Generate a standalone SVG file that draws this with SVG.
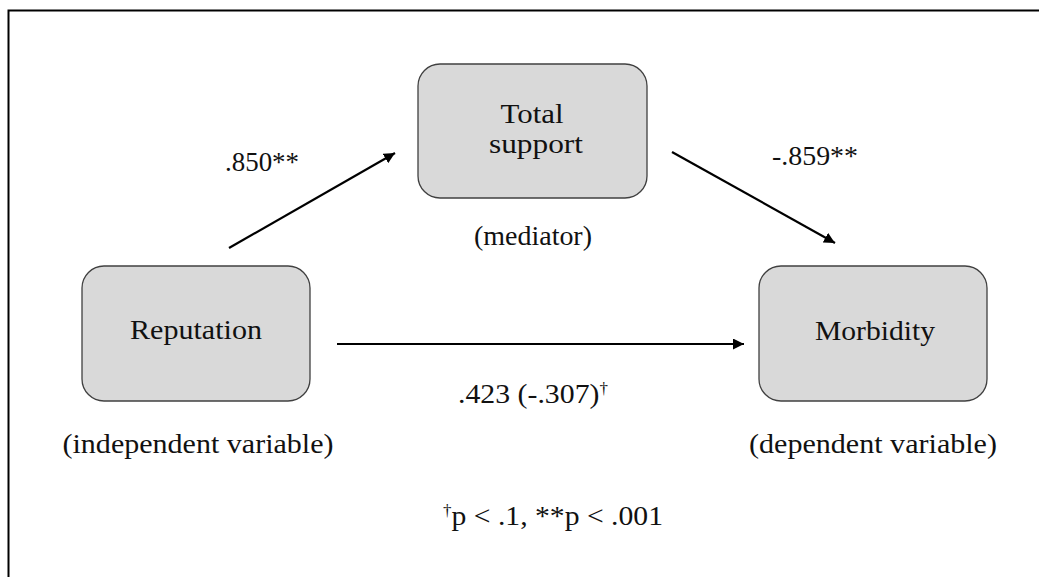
<svg xmlns="http://www.w3.org/2000/svg" width="1039" height="577" viewBox="0 0 1039 577">
<defs>
<style>
.box{fill:#d9d9d9;stroke:#404040;stroke-width:1.3}
.t{font-family:"Liberation Serif","Times New Roman",serif;font-size:28px;fill:#111;text-anchor:middle}
.c{stroke:#000;stroke-width:2.2;fill:none}
.sup{font-size:16px}
</style>
<marker id="ah" viewBox="0 0 10 10" refX="10" refY="5" markerWidth="5" markerHeight="5" markerUnits="strokeWidth" orient="auto">
<path d="M0,0 L10,5 L0,10 z" fill="#000"/>
</marker>
</defs>
<rect x="0" y="0" width="1039" height="577" fill="#fff"/>
<path d="M8.5,590 V10.5 H1050" fill="none" stroke="#000" stroke-width="2"/>
<g id="connectors">
<line class="c" x1="229" y1="248" x2="395" y2="153" marker-end="url(#ah)"/>
<line class="c" x1="672" y1="152" x2="835" y2="243" marker-end="url(#ah)"/>
<line class="c" x1="337" y1="344" x2="744" y2="344" marker-end="url(#ah)"/>
<text class="t" x="262" y="171" textLength="74" lengthAdjust="spacingAndGlyphs">.850**</text>
<text class="t" x="815" y="165" textLength="86" lengthAdjust="spacingAndGlyphs">-.859**</text>
<text class="t" x="533" y="403" textLength="150" lengthAdjust="spacingAndGlyphs">.423 (-.307)<tspan class="sup" dy="-9">†</tspan></text>
</g>
<g id="node-support">
<rect class="box" x="418" y="64" width="229" height="134" rx="22"/>
<text class="t" x="532" y="123" textLength="63" lengthAdjust="spacingAndGlyphs">Total</text>
<text class="t" x="536" y="153" textLength="94" lengthAdjust="spacingAndGlyphs">support</text>
<text class="t" x="533" y="245" textLength="118" lengthAdjust="spacingAndGlyphs">(mediator)</text>
</g>
<g id="node-reputation">
<rect class="box" x="82" y="266" width="228" height="135" rx="22"/>
<text class="t" x="196" y="339" textLength="132" lengthAdjust="spacingAndGlyphs">Reputation</text>
<text class="t" x="198" y="453" textLength="271" lengthAdjust="spacingAndGlyphs">(independent variable)</text>
</g>
<g id="node-morbidity">
<rect class="box" x="759" y="266" width="228" height="135" rx="22"/>
<text class="t" x="875" y="340" textLength="120" lengthAdjust="spacingAndGlyphs">Morbidity</text>
<text class="t" x="873" y="453" textLength="248" lengthAdjust="spacingAndGlyphs">(dependent variable)</text>
</g>
<text class="t" x="553" y="525" textLength="220" lengthAdjust="spacingAndGlyphs"><tspan class="sup" dy="-9">†</tspan><tspan dy="9">p &lt; .1, **p &lt; .001</tspan></text>
</svg>
